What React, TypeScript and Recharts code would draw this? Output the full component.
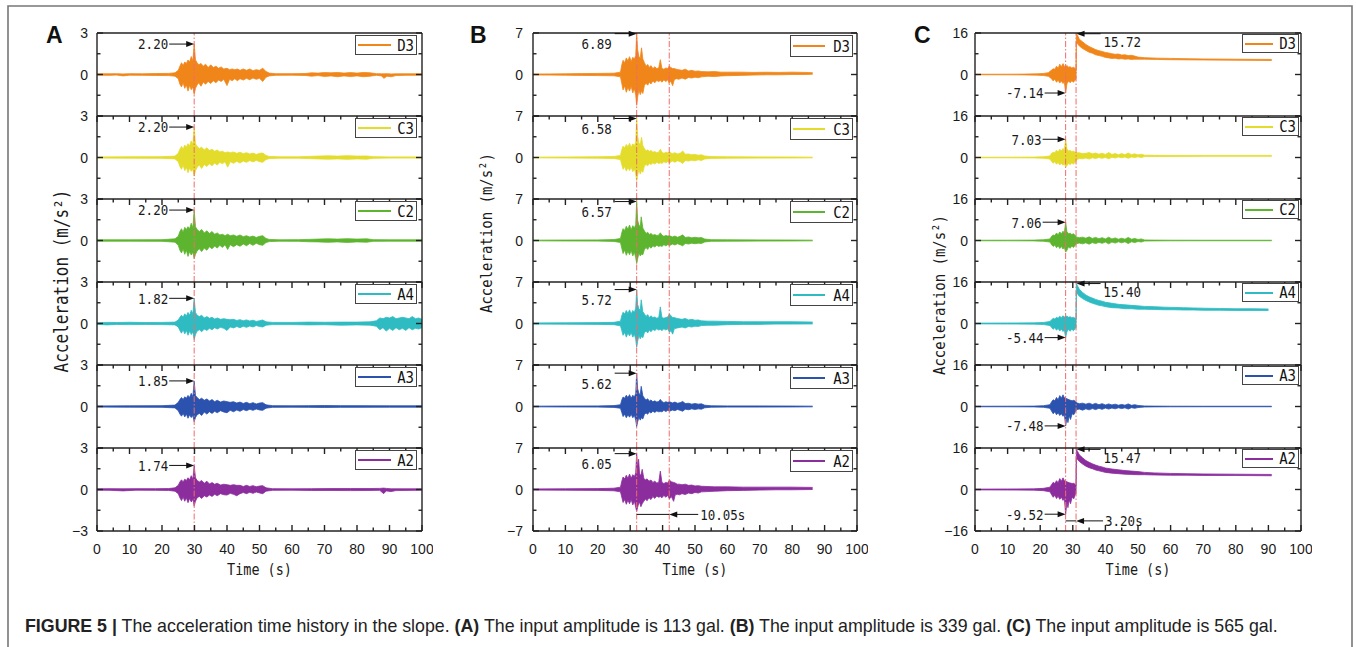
import React from 'react';
import { ComposedChart, Area, XAxis, YAxis, ReferenceLine, ReferenceDot, Legend } from 'recharts';

type Env = number[][]; // [time, low, high] envelope

const TIME_TICKS = [0, 5, 10, 15, 20, 25, 30, 35, 40, 45, 50, 55, 60, 65, 70, 75, 80, 85, 90, 95, 100];
const SENSORS = ['D3', 'C3', 'C2', 'A4', 'A3', 'A2'];
const COLORS = ['#F0861A', '#E3DC2B', '#5DB52F', '#2EBBC2', '#2A52AE', '#8C2D9E'];

// ---------- Panel A (113 gal) ----------
const A_D3: Env = [[0,-.05,.05],[4,-.06,.05],[6,-.04,.06],[8,-.1,.04],[10,-.05,.06],[14,-.06,.05],[18,-.07,.07],[22,-.08,.08],[24,-.12,.12],[25,-.3,.3],[25.5,-.7,.6],[26,-.9,.85],[26.5,-.6,.65],[27,-1.0,.9],[27.5,-.75,.8],[28,-1.2,1.05],[28.5,-.8,.9],[29,-1.1,1.3],[29.5,-.9,1.0],[29.9,-1.45,2.2],[30.3,-1.0,1.05],[30.8,-.75,.85],[31.3,-.6,.7],[32,-.85,.8],[32.7,-.55,.6],[33.4,-.7,.75],[34.2,-.5,.5],[35,-.65,.7],[35.8,-.45,.5],[36.6,-.6,.6],[37.4,-.4,.45],[38.2,-.5,.55],[39,-.35,.4],[40,-.8,.45],[40.8,-.35,.35],[41.6,-.45,.4],[42.4,-.3,.35],[43.2,-.45,.4],[44,-.3,.3],[45,-.4,.4],[46,-.28,.3],[47,-.38,.4],[48,-.25,.28],[49,-.35,.35],[50,-.28,.3],[51,-.5,.45],[52,-.2,.22],[53,-.1,.1],[55,-.06,.06],[60,-.05,.06],[64,-.07,.07],[66,-.12,.12],[68,-.08,.1],[70,-.14,.14],[72,-.1,.12],[74,-.16,.15],[76,-.1,.1],[78,-.15,.14],[80,-.1,.1],[82,-.16,.15],[84,-.12,.12],[86,-.06,.06],[87.5,-.1,.05],[88.3,-.28,.05],[89.2,-.12,.06],[90.5,-.16,.04],[92,-.08,.05],[95,-.06,.05],[100,-.05,.05]];
const A_C3: Env = [[0,-.04,.04],[10,-.05,.05],[20,-.06,.06],[24,-.1,.1],[25,-.3,.3],[25.5,-.65,.6],[26,-.85,.8],[26.5,-.55,.6],[27,-.95,.9],[27.5,-.7,.75],[28,-1.1,1.0],[28.5,-.75,.85],[29,-1.0,1.2],[29.5,-.85,.95],[29.9,-1.35,2.2],[30.3,-.95,1.0],[30.8,-.7,.8],[31.5,-.55,.65],[32.2,-.8,.75],[33,-.5,.55],[33.8,-.65,.7],[34.6,-.45,.5],[35.4,-.6,.6],[36.2,-.4,.45],[37,-.55,.55],[37.8,-.35,.4],[38.6,-.45,.45],[39.4,-.3,.35],[40.2,-.7,.4],[41,-.3,.35],[42,-.42,.4],[43,-.28,.3],[44,-.4,.38],[45,-.25,.28],[46,-.35,.35],[47,-.22,.25],[48,-.32,.32],[49,-.2,.22],[50,-.3,.3],[51,-.35,.32],[52,-.15,.15],[53,-.08,.08],[56,-.05,.05],[62,-.05,.05],[65,-.08,.08],[68,-.1,.1],[71,-.12,.12],[74,-.1,.1],[77,-.13,.13],[80,-.1,.1],[83,-.12,.11],[85,-.06,.06],[90,-.04,.04],[100,-.04,.04]];
const A_C2: Env = [[0,-.05,.05],[10,-.05,.05],[20,-.06,.06],[24,-.12,.12],[25,-.35,.3],[25.5,-.7,.65],[26,-.9,.85],[26.5,-.6,.6],[27,-1.0,.95],[27.5,-.7,.8],[28,-1.15,1.0],[28.5,-.8,.85],[29,-1.05,1.25],[29.5,-.85,.9],[29.9,-1.3,2.2],[30.3,-1.0,1.0],[30.8,-.75,.8],[31.5,-.6,.65],[32.2,-.8,.8],[33,-.55,.55],[33.8,-.7,.7],[34.6,-.45,.5],[35.4,-.6,.65],[36.2,-.4,.45],[37,-.55,.55],[37.8,-.35,.4],[38.6,-.5,.45],[39.4,-.3,.35],[40.2,-.65,.45],[41,-.3,.35],[42,-.45,.4],[43,-.3,.3],[44,-.42,.4],[45,-.25,.28],[46,-.38,.35],[47,-.22,.25],[48,-.35,.32],[49,-.2,.22],[50,-.3,.3],[51,-.35,.35],[52,-.15,.15],[53,-.08,.08],[56,-.05,.05],[62,-.06,.06],[65,-.09,.08],[68,-.1,.1],[71,-.13,.12],[74,-.1,.1],[77,-.14,.13],[80,-.1,.1],[83,-.12,.12],[85,-.06,.06],[90,-.05,.05],[100,-.05,.05]];
const A_A4: Env = [[0,-.06,.06],[3,-.1,.08],[6,-.07,.07],[10,-.08,.09],[15,-.07,.07],[20,-.08,.08],[24,-.1,.1],[25,-.25,.25],[25.5,-.5,.45],[26,-.7,.6],[26.5,-.45,.45],[27,-.75,.7],[27.5,-.5,.55],[28,-.85,.8],[28.5,-.55,.6],[29,-.8,.95],[29.5,-.6,.7],[29.9,-1.15,1.82],[30.3,-.8,.8],[30.8,-.55,.6],[31.5,-.45,.5],[32.2,-.6,.6],[33,-.4,.4],[33.8,-.5,.5],[34.6,-.35,.38],[35.4,-.45,.45],[36.2,-.3,.32],[37,-.4,.4],[38,-.28,.3],[39,-.35,.35],[40,-.5,.3],[41,-.25,.28],[42,-.32,.3],[43,-.22,.22],[44,-.3,.28],[45,-.2,.2],[46,-.28,.26],[47,-.18,.18],[48,-.25,.24],[49,-.15,.15],[50,-.22,.2],[51,-.25,.25],[52,-.12,.12],[54,-.08,.08],[60,-.08,.08],[65,-.1,.1],[70,-.09,.09],[75,-.12,.1],[80,-.1,.1],[84,-.12,.12],[86,-.2,.2],[87,-.45,.4],[88,-.3,.35],[89,-.55,.45],[90,-.35,.4],[91,-.5,.5],[92,-.3,.35],[93,-.45,.4],[94,-.35,.45],[95,-.5,.4],[96,-.3,.35],[97,-.45,.5],[98,-.35,.35],[99,-.4,.4],[100,-.3,.3]];
const A_A3: Env = [[0,-.04,.04],[10,-.05,.05],[20,-.06,.06],[24,-.1,.1],[25,-.3,.3],[25.5,-.55,.5],[26,-.7,.65],[26.5,-.5,.5],[27,-.75,.7],[27.5,-.55,.6],[28,-.85,.8],[28.5,-.6,.65],[29,-.8,.95],[29.5,-.65,.7],[29.9,-1.1,1.85],[30.3,-.8,.8],[30.8,-.6,.65],[31.5,-.5,.5],[32.2,-.65,.6],[33,-.4,.45],[33.8,-.55,.55],[34.6,-.38,.4],[35.4,-.5,.5],[36.2,-.35,.35],[37,-.45,.45],[38,-.3,.32],[39,-.4,.4],[40,-.45,.35],[41,-.28,.3],[42,-.38,.35],[43,-.25,.25],[44,-.35,.32],[45,-.22,.22],[46,-.3,.3],[47,-.2,.2],[48,-.28,.28],[49,-.18,.18],[50,-.25,.25],[51,-.28,.28],[52,-.12,.12],[54,-.06,.06],[60,-.05,.05],[65,-.06,.06],[70,-.07,.07],[75,-.06,.06],[80,-.06,.06],[90,-.05,.05],[100,-.05,.05]];
const A_A2: Env = [[0,-.05,.05],[4,-.06,.06],[8,-.1,.05],[12,-.05,.06],[18,-.06,.06],[22,-.07,.07],[24,-.12,.12],[25,-.3,.3],[25.5,-.6,.55],[26,-.8,.7],[26.5,-.55,.55],[27,-.85,.75],[27.5,-.6,.65],[28,-.95,.85],[28.5,-.65,.7],[29,-.9,1.0],[29.5,-.7,.75],[29.9,-1.2,1.74],[30.3,-.85,.85],[30.8,-.6,.65],[31.5,-.5,.55],[32.2,-.65,.65],[33,-.45,.45],[33.8,-.55,.6],[34.6,-.4,.4],[35.4,-.5,.5],[36.2,-.35,.38],[37,-.45,.45],[38,-.3,.32],[39,-.38,.38],[40,-.4,.35],[41,-.28,.3],[42,-.35,.35],[43,-.45,.3],[44,-.3,.3],[45,-.22,.22],[46,-.3,.3],[47,-.2,.22],[48,-.28,.28],[49,-.18,.2],[50,-.25,.25],[51,-.3,.28],[52,-.12,.12],[54,-.06,.06],[60,-.05,.05],[66,-.07,.06],[72,-.07,.07],[78,-.08,.07],[84,-.07,.07],[87,-.06,.08],[88.2,-.3,.1],[89,-.1,.08],[90.5,-.15,.05],[92,-.08,.05],[100,-.05,.05]];

// ---------- Panel B (339 gal) ----------
const B_D3: Env = [[0,-.08,.08],[5,-.1,.1],[10,-.12,.12],[15,-.15,.15],[20,-.18,.18],[25,-.22,.22],[27,-.4,.4],[27.4,-1.5,1.6],[27.8,-2.6,2.4],[28.3,-1.9,2.0],[28.8,-3.0,2.8],[29.3,-2.2,2.3],[29.8,-2.8,3.0],[30.3,-2.0,2.2],[30.8,-3.1,2.9],[31.3,-2.4,2.6],[31.7,-3.5,3.2],[32.0,-5.2,6.89],[32.3,-3.8,4.2],[32.7,-2.6,3.0],[33.1,-3.4,2.8],[33.5,-2.8,4.5],[33.9,-3.2,2.6],[34.4,-1.8,2.0],[34.9,-1.5,1.4],[35.4,-1.8,1.7],[35.9,-1.3,1.2],[36.4,-1.6,1.5],[37,-1.1,1.0],[37.6,-1.4,1.3],[38.2,-1.0,1.0],[38.8,-1.2,1.1],[39.3,-1.0,2.5],[39.8,-1.3,1.0],[40.4,-.9,.9],[41,-1.2,1.1],[41.6,-.9,1.0],[42,-1.5,1.4],[42.5,-1.1,1.2],[43.1,-1.9,1.0],[43.6,-.9,1.0],[44.2,-.7,.9],[45,-.8,.8],[46,-.6,.7],[47,-.8,.9],[48,-.5,.6],[49,-.6,.7],[50,-.45,.55],[51,-.55,.6],[52,-.4,.5],[54,-.3,.45],[56,-.35,.5],[58,-.25,.4],[60,-.2,.4],[64,-.15,.4],[68,-.1,.35],[72,-.05,.38],[76,-.05,.35],[80,0,.4],[84,0,.35],[86.3,.05,.3]];
const B_C3: Env = [[0,-.06,.06],[10,-.08,.08],[20,-.12,.12],[25,-.18,.18],[27,-.35,.35],[27.4,-1.2,1.3],[27.8,-2.0,1.9],[28.3,-1.5,1.6],[28.8,-2.3,2.2],[29.3,-1.7,1.8],[29.8,-2.2,2.4],[30.3,-1.6,1.7],[30.8,-2.4,2.3],[31.3,-1.9,2.0],[31.7,-2.8,2.6],[32.0,-3.9,6.58],[32.3,-3.0,3.6],[32.7,-2.0,2.4],[33.1,-2.8,2.2],[33.5,-2.2,3.4],[33.9,-2.5,2.0],[34.4,-1.4,1.5],[34.9,-1.2,1.1],[35.4,-1.4,1.3],[35.9,-1.0,1.0],[36.4,-1.2,1.2],[37,-.9,.9],[37.6,-1.1,1.0],[38.2,-.8,.8],[38.8,-1.0,.9],[39.3,-.9,1.4],[39.8,-1.0,.9],[40.4,-.7,.7],[41,-.9,.9],[41.6,-.7,.8],[42.2,-.9,.9],[43,-.6,.65],[43.8,-.8,.8],[44.6,-.55,.6],[45.4,-.7,.7],[46.2,-1.0,1.1],[47,-.5,.55],[48,-.6,.6],[49,-.45,.45],[50,-.55,.5],[51,-.4,.4],[52,-.5,.45],[53,-.25,.25],[55,-.15,.15],[60,-.12,.12],[70,-.1,.1],[80,-.08,.08],[86.3,-.06,.06]];
const B_C2: Env = [[0,-.06,.06],[10,-.08,.08],[20,-.1,.1],[25,-.16,.16],[27,-.35,.35],[27.4,-1.3,1.3],[27.8,-2.2,2.0],[28.3,-1.6,1.7],[28.8,-2.5,2.4],[29.3,-1.8,1.9],[29.8,-2.4,2.6],[30.3,-1.7,1.8],[30.8,-2.6,2.5],[31.3,-2.0,2.1],[31.7,-2.9,2.7],[32.0,-3.9,6.57],[32.3,-3.1,3.4],[32.7,-2.1,2.6],[33.1,-2.6,2.3],[33.4,-2.3,4.0],[33.9,-2.4,2.1],[34.4,-1.5,1.6],[34.9,-1.2,1.2],[35.4,-1.5,1.4],[35.9,-1.0,1.0],[36.4,-1.3,1.2],[37,-.9,.9],[37.6,-1.1,1.0],[38.2,-.8,.85],[38.8,-1.0,.9],[39.3,-.9,1.3],[39.8,-1.0,.9],[40.4,-.7,.7],[41,-.9,.85],[41.6,-.7,.75],[42.2,-.85,.8],[43,-.6,.6],[43.8,-.75,.75],[44.6,-.55,.55],[45.4,-.7,.7],[46.2,-.9,.95],[47,-.5,.5],[48,-.6,.6],[49,-.45,.45],[50,-.55,.55],[51,-.45,.45],[52,-.5,.5],[53,-.25,.25],[55,-.14,.14],[60,-.12,.12],[70,-.1,.1],[80,-.08,.08],[86.3,-.06,.06]];
const B_A4: Env = [[0,-.1,.1],[10,-.12,.12],[20,-.15,.15],[25,-.2,.2],[27,-.4,.4],[27.4,-1.2,1.3],[27.8,-2.0,1.9],[28.3,-1.5,1.6],[28.8,-2.3,2.2],[29.3,-1.6,1.7],[29.8,-2.1,2.3],[30.3,-1.5,1.6],[30.8,-2.3,2.2],[31.3,-1.8,1.9],[31.7,-2.7,2.6],[32.0,-4.0,5.72],[32.3,-3.0,3.2],[32.7,-2.0,2.5],[33.1,-2.6,2.2],[33.4,-2.2,4.0],[33.9,-2.4,2.0],[34.4,-1.5,1.6],[34.9,-1.3,1.2],[35.4,-1.6,1.5],[35.9,-1.1,1.0],[36.4,-1.4,1.3],[37,-1.0,1.0],[37.6,-1.2,1.1],[38.2,-.9,.9],[38.8,-1.1,1.0],[39.3,-1.0,2.8],[39.8,-1.2,1.0],[40.4,-.9,.9],[41,-1.1,1.0],[41.6,-.9,1.1],[42.1,-1.5,1.6],[42.6,-1.2,1.3],[43.1,-1.8,1.0],[43.6,-.9,1.0],[44.2,-.8,.9],[45,-.7,.8],[46,-.6,.7],[47,-.75,.85],[48,-.5,.6],[49,-.6,.7],[50,-.45,.55],[51,-.5,.6],[52,-.35,.45],[54,-.3,.4],[56,-.3,.4],[60,-.2,.35],[65,-.15,.3],[70,-.15,.3],[75,-.1,.3],[80,-.1,.3],[86.3,-.08,.25]];
const B_A3: Env = [[0,-.06,.06],[10,-.08,.08],[20,-.1,.1],[25,-.15,.15],[27,-.3,.3],[27.4,-1.0,1.1],[27.8,-1.7,1.6],[28.3,-1.3,1.4],[28.8,-1.9,1.9],[29.3,-1.4,1.5],[29.8,-1.8,2.0],[30.3,-1.3,1.4],[30.8,-1.9,1.9],[31.3,-1.5,1.6],[31.7,-2.3,2.2],[32.0,-3.4,5.62],[32.3,-2.6,3.0],[32.7,-1.8,2.2],[33.1,-2.3,2.0],[33.4,-1.9,3.4],[33.9,-2.1,1.8],[34.4,-1.3,1.4],[34.9,-1.1,1.1],[35.4,-1.3,1.3],[35.9,-.9,.9],[36.4,-1.1,1.1],[37,-.8,.8],[37.6,-1.0,.95],[38.2,-.75,.75],[38.8,-.9,.85],[39.3,-.85,1.2],[39.8,-.9,.85],[40.4,-.65,.65],[41,-.85,.8],[41.6,-.65,.7],[42.2,-.8,.8],[43,-.6,.6],[43.8,-.7,.75],[44.6,-.5,.55],[45.4,-.65,.65],[46.2,-.8,.85],[47,-.45,.5],[48,-.55,.55],[49,-.4,.4],[50,-.5,.5],[51,-.4,.4],[52,-.45,.45],[53,-.22,.22],[55,-.12,.12],[60,-.1,.1],[70,-.1,.1],[80,-.08,.08],[86.3,-.06,.06]];
const B_A2: Env = [[0,-.1,.1],[10,-.12,.12],[20,-.15,.15],[25,-.22,.22],[27,-.4,.4],[27.4,-1.3,1.4],[27.8,-2.2,2.1],[28.3,-1.7,1.8],[28.8,-2.5,2.4],[29.3,-1.8,1.9],[29.8,-2.4,2.6],[30.3,-1.7,1.9],[30.8,-2.6,2.5],[31.3,-2.0,2.2],[31.7,-3.0,2.8],[32.0,-3.7,6.05],[32.3,-3.0,3.6],[32.6,-2.4,5.1],[32.9,-2.2,2.6],[33.3,-2.9,2.4],[33.7,-2.4,3.4],[34.2,-2.0,1.9],[34.7,-1.6,1.6],[35.2,-1.9,1.8],[35.8,-1.4,1.4],[36.4,-1.7,1.6],[37,-1.2,1.2],[37.6,-1.5,1.4],[38.2,-1.1,1.1],[38.8,-1.3,1.2],[39.3,-1.2,3.1],[39.8,-1.4,1.2],[40.4,-1.0,1.0],[41,-1.3,1.2],[41.6,-1.0,1.1],[42.1,-1.6,1.6],[42.7,-1.2,1.3],[43.4,-2.0,1.2],[43.9,-.9,1.1],[44.5,-.8,.9],[45.2,-.9,.9],[46,-.7,.8],[47,-.85,.9],[48,-.6,.7],[49,-.7,.75],[50,-.5,.6],[51,-.6,.65],[52,-.4,.55],[54,-.35,.5],[56,-.3,.45],[60,-.2,.45],[65,-.15,.4],[70,-.1,.4],[75,-.05,.4],[80,-.05,.4],[86.3,0,.35]];

// ---------- Panel C (565 gal) ----------
const C_D3: Env = [[0,-.1,.1],[10,-.12,.12],[15,-.15,.15],[19,-.25,.25],[21,-.4,.4],[22.5,-.7,.7],[23.4,-1.5,1.6],[24,-2.5,2.2],[24.5,-1.8,2.0],[25,-3.0,3.2],[25.5,-2.2,2.4],[26,-3.3,4.0],[26.5,-2.5,3.0],[27,-3.5,4.2],[27.4,-2.8,3.2],[27.8,-7.14,3.0],[28.2,-3.6,3.5],[28.7,-2.5,2.8],[29.2,-3.2,3.0],[29.7,-2.4,2.5],[30.2,-3.0,2.8],[30.7,-2.2,2.4],[31.0,-1.5,1.5],[31.1,12.5,15.72],[31.5,11.8,15.0],[32,11.0,13.6],[33,10.0,12.6],[34,9.3,11.6],[35,8.6,10.8],[36,8.2,10.2],[37,7.6,9.6],[38,7.3,9.2],[39,7.0,8.9],[40,6.6,8.5],[41,6.4,8.3],[42,6.2,8.0],[43,6.3,7.8],[44,6.0,7.9],[45,6.1,7.5],[46,5.9,7.6],[47,6.0,7.3],[48,5.8,7.4],[49,5.9,7.1],[50,5.9,6.7],[52,5.9,6.5],[56,5.8,6.3],[60,5.7,6.2],[70,5.6,6.0],[80,5.5,5.9],[91,5.4,5.8]];
const C_C3: Env = [[0,-.1,.1],[10,-.12,.12],[18,-.15,.15],[21,-.3,.3],[23,-.6,.6],[23.5,-1.5,1.6],[24,-2.2,2.0],[24.5,-1.6,1.8],[25,-2.6,2.8],[25.5,-1.9,2.1],[26,-2.9,3.2],[26.5,-2.2,2.5],[27,-3.0,3.5],[27.4,-2.4,2.8],[27.8,-3.6,7.03],[28.2,-3.2,3.3],[28.7,-2.2,2.5],[29.2,-2.8,2.7],[29.7,-2.0,2.2],[30.2,-2.6,2.5],[30.7,-1.8,2.0],[31.2,-.8,1.8],[32,-.4,1.8],[33,-.5,1.5],[34,-.2,1.6],[35,-.6,1.9],[36,-.1,1.4],[37,-.4,1.7],[38,0,1.3],[39,-.3,1.6],[40,0,1.2],[41,-.5,1.9],[42,.1,1.2],[43,-.2,1.5],[44,.2,1.1],[45,-.1,1.5],[46,.2,1.1],[47,-.3,1.7],[48,.2,1.1],[49,0,1.4],[50,.3,1.0],[51,0,1.3],[52,.35,.9],[55,.4,.85],[60,.4,.8],[70,.45,.8],[80,.45,.8],[91,.45,.8]];
const C_C2: Env = [[0,-.1,.1],[10,-.12,.12],[18,-.15,.15],[21,-.3,.3],[23,-.6,.6],[23.5,-1.6,1.6],[24,-2.3,2.1],[24.5,-1.7,1.9],[25,-2.8,2.9],[25.5,-2.0,2.2],[26,-3.1,3.3],[26.5,-2.3,2.6],[27,-3.3,3.6],[27.4,-2.6,2.9],[27.8,-4.5,7.06],[28.2,-3.8,3.4],[28.7,-2.4,2.6],[29.2,-3.0,2.8],[29.7,-2.1,2.3],[30.2,-2.7,2.6],[30.7,-1.9,2.0],[31.2,-1.2,1.3],[32,-1.0,1.1],[33,-1.3,1.3],[34,-.9,.9],[35,-1.4,1.4],[36,-.8,.8],[37,-1.2,1.2],[38,-.7,.7],[39,-1.1,1.1],[40,-.6,.6],[41,-1.3,1.3],[42,-.6,.6],[43,-1.0,1.0],[44,-.5,.5],[45,-.9,.9],[46,-.5,.5],[47,-1.2,1.2],[48,-.5,.5],[49,-.8,.8],[50,-.4,.4],[51,-.6,.6],[52,-.2,.2],[55,-.15,.15],[60,-.12,.12],[70,-.1,.1],[80,-.1,.1],[91,-.1,.1]];
const C_A4: Env = [[0,-.15,.15],[10,-.2,.2],[18,-.25,.25],[21,-.4,.4],[23,-.8,.8],[23.5,-1.5,1.4],[24,-2.2,2.0],[24.5,-1.6,1.7],[25,-2.6,2.4],[25.5,-1.9,2.0],[26,-2.9,2.8],[26.5,-2.2,2.2],[27,-3.1,3.0],[27.4,-2.5,2.5],[27.8,-5.44,2.6],[28.2,-3.2,2.9],[28.7,-2.3,2.4],[29.2,-3.0,2.6],[29.7,-2.2,2.2],[30.2,-2.8,2.4],[30.7,-2.0,2.0],[31.0,-1.5,1.5],[31.1,12.0,15.4],[31.5,11.3,14.4],[32,10.5,13.2],[33,9.6,12.0],[34,8.9,11.0],[35,8.3,10.3],[36,7.8,9.8],[37,7.4,9.3],[38,7.0,8.9],[39,6.8,8.6],[40,6.5,8.2],[42,6.1,7.8],[44,6.0,7.4],[46,5.7,7.2],[48,5.7,7.0],[50,5.5,6.8],[52,5.5,6.6],[55,5.4,6.5],[58,5.3,6.3],[61,5.3,6.2],[64,5.2,6.1],[67,5.2,6.0],[70,5.1,5.9],[75,5.1,5.8],[80,5.0,5.7],[85,5.0,5.7],[90,5.0,5.6]];
const C_A3: Env = [[0,-.1,.1],[10,-.12,.12],[18,-.15,.15],[21,-.3,.3],[23,-.7,.7],[23.5,-1.8,1.8],[24,-2.8,2.6],[24.5,-2.0,2.2],[25,-3.2,3.5],[25.5,-2.4,2.6],[26,-3.5,4.2],[26.5,-2.8,3.2],[27,-3.8,4.5],[27.4,-3.0,3.4],[27.8,-7.48,3.2],[28.2,-4.5,3.0],[28.5,-6.2,2.8],[28.9,-3.6,2.6],[29.3,-5.0,2.4],[29.8,-2.8,2.2],[30.3,-3.2,2.4],[30.8,-2.0,2.0],[31.2,-1.2,1.4],[32,-1.0,1.1],[33,-1.4,1.3],[34,-.9,.9],[35,-1.3,1.3],[36,-.8,.8],[37,-1.2,1.2],[38,-.7,.7],[39,-1.1,1.1],[40,-.6,.6],[41,-1.0,1.0],[42,-.6,.6],[43,-.9,.9],[44,-.5,.5],[45,-.8,.8],[46,-.5,.5],[47,-1.0,1.0],[48,-.45,.45],[49,-.7,.7],[50,-.4,.4],[52,-.2,.2],[55,-.15,.15],[60,-.12,.12],[70,-.1,.1],[80,-.1,.1],[91,-.1,.1]];
const C_A2: Env = [[0,-.15,.15],[10,-.2,.2],[18,-.25,.25],[21,-.45,.45],[23,-.9,.9],[23.5,-2.0,1.9],[24,-3.0,2.8],[24.5,-2.2,2.3],[25,-3.5,3.4],[25.5,-2.6,2.6],[26,-3.8,4.2],[26.5,-3.0,3.2],[27,-4.2,4.5],[27.4,-3.2,3.4],[27.8,-9.52,3.2],[28.2,-5.0,3.0],[28.5,-7.0,2.8],[28.9,-4.0,2.6],[29.3,-5.5,2.5],[29.8,-3.0,2.3],[30.3,-3.6,2.4],[30.7,-2.2,2.0],[31.0,-1.5,1.5],[31.1,12.2,15.47],[31.5,11.5,14.6],[32,10.8,13.4],[33,9.8,12.2],[34,9.0,11.2],[35,8.4,10.5],[36,8.0,9.9],[37,7.5,9.4],[38,7.2,9.0],[39,6.9,8.7],[40,6.6,8.3],[42,6.3,7.9],[44,6.1,7.6],[46,5.9,7.3],[48,5.8,7.1],[50,5.7,6.9],[52,5.7,6.6],[55,5.6,6.4],[60,5.5,6.2],[65,5.5,6.1],[70,5.4,6.0],[80,5.4,5.9],[91,5.3,5.8]];

// ---------- annotations ----------
const A_PEAK_TIME = 29.9;
const A_PEAKS = [2.20, 2.20, 2.20, 1.82, 1.85, 1.74];
const B_PEAK_TIME = 32.0;
const B_PEAKS = [6.89, 6.58, 6.57, 5.72, 5.62, 6.05];
const A_MARK_LINES = [29.9];
const B_MARK_LINES = [32.0, 42.05];
const C_MARK_LINES = [27.8, 31.0];
const C_POS_TIME = 31.15;
const C_NEG_TIME = 27.8;
const C_POS = [15.72, 7.03, 7.06, 15.40, NaN, 15.47];
const C_NEG = [-7.14, NaN, NaN, -5.44, -7.48, -9.52];
const B_INTERVAL = { from: 32.0, to: 42.05, y: -4.2, text: '10.05s', tail: 29 };
const C_INTERVAL = { from: 27.8, to: 31.0, y: -12.1, text: '3.20s', tail: 27 };

// ---------- styling ----------
const TOP = 33;
const SUBH = 83;
const AXC = '#222222';
const RED = '#F26B6B';
const ARC = '#111111';
const MONO = '"DejaVu Sans Mono", monospace';
const SANS = '"Liberation Sans", Arial, sans-serif';
const MAJOR_TICK = 6; // px
const MINOR_TICK = 3.5; // px

interface Ann { t: number; v: number; text: string; kind: 'L' | 'LB' | 'R'; len: number }
interface Interval { from: number; to: number; y: number; text: string; tail: number }
interface LegendGeom { w: number; h: number; top: number; right: number; line: number }
interface Panel {
  id: string; left: number; right: number; dom: number; series: Env[]; ann: Ann[][];
  marks: number[]; interval?: Interval; lg: LegendGeom; labelGap: number;
}

const fmt = (v: number) => v.toFixed(2);

const annA: Ann[][] = A_PEAKS.map((v) => [{ t: A_PEAK_TIME, v, text: fmt(v), kind: 'L', len: 25 }]);
const annB: Ann[][] = B_PEAKS.map((v) => [{ t: B_PEAK_TIME, v, text: fmt(v), kind: 'LB', len: 22 }]);
const annC: Ann[][] = C_POS.map((p, i) => {
  const out: Ann[] = [];
  if (!isNaN(p)) {
    if (p > 10) out.push({ t: C_POS_TIME, v: p, text: fmt(p), kind: 'R', len: 24 });
    else out.push({ t: C_NEG_TIME, v: p, text: fmt(p), kind: 'L', len: 23 });
  }
  const n = C_NEG[i];
  if (!isNaN(n)) out.push({ t: C_NEG_TIME, v: n, text: fmt(n), kind: 'L', len: 21 });
  return out;
});

const PANELS: Panel[] = [
  { id: 'A', left: 97, right: 422, dom: 3, series: [A_D3, A_C3, A_C2, A_A4, A_A3, A_A2], ann: annA, marks: A_MARK_LINES,
    lg: { w: 62, h: 20, top: 2, right: 5, line: 33 }, labelGap: 9 },
  { id: 'B', left: 533, right: 857, dom: 7, series: [B_D3, B_C3, B_C2, B_A4, B_A3, B_A2], ann: annB, marks: B_MARK_LINES,
    interval: B_INTERVAL, lg: { w: 63, h: 22, top: 2, right: 4, line: 32 }, labelGap: 10 },
  { id: 'C', left: 975, right: 1301, dom: 16, series: [C_D3, C_C3, C_C2, C_A4, C_A3, C_A2], ann: annC, marks: C_MARK_LINES,
    interval: C_INTERVAL, lg: { w: 57, h: 19, top: 1, right: 2, line: 28 }, labelGap: 7 },
];

const TallText = ({ x, y, anchor, size = 12.5, children }: { x: number; y: number; anchor: 'start' | 'middle' | 'end'; size?: number; children: React.ReactNode }) => (
  <text transform={`translate(${x},${y}) scale(1,1.18)`} x={0} y={0} textAnchor={anchor} dominantBaseline="central"
    fontFamily={MONO} fontSize={size} fill="#1a1a1a">{children}</text>
);

function head(tx: number, ty: number, dir: number) {
  const b = tx - dir * 8;
  return <polygon points={`${tx},${ty} ${b},${ty - 3} ${b},${ty + 3}`} fill={ARC} />;
}

function annShape(a: Ann) {
  return (p: any) => {
    const cx = p.cx as number, cy = p.cy as number;
    if (cx == null || cy == null) return <g />;
    if (a.kind === 'R') {
      return (
        <g>
          <line x1={cx + 6} y1={cy} x2={cx + a.len} y2={cy} stroke={ARC} strokeWidth={1} />
          {head(cx, cy, -1)}
          <TallText x={cx + a.len + 3} y={cy + 8} anchor="start">{a.text}</TallText>
        </g>
      );
    }
    const below = a.kind === 'LB';
    return (
      <g>
        <line x1={cx - a.len} y1={cy} x2={cx - 6} y2={cy} stroke={ARC} strokeWidth={1} />
        {head(cx, cy, 1)}
        <TallText x={below ? cx - a.len - 3 : cx - a.len - 1} y={below ? cy + 10 : cy} anchor="end">{a.text}</TallText>
      </g>
    );
  };
}

function intervalShape(iv: Interval) {
  return (p: any) => {
    const cx = p.cx as number, cy = p.cy as number;
    if (cx == null || cy == null) return <g />;
    return (
      <g>
        <line x1={cx + 6} y1={cy} x2={cx + iv.tail} y2={cy} stroke={ARC} strokeWidth={1} />
        {head(cx, cy, -1)}
        <TallText x={cx + iv.tail + 2} y={cy} anchor="start">{iv.text}</TallText>
      </g>
    );
  };
}

function Sub({ cfg, k }: { cfg: Panel; k: number }) {
  const last = k === 5;
  const plotW = cfg.right - cfg.left;
  const LM = 45, RM = 10, TM = 10;
  const XH = last ? 46 : 0;
  const BM = last ? 0 : 10;
  const width = LM + plotW + 1 + RM;
  const height = TM + SUBH + XH + BM;
  const d = cfg.dom;
  const data = cfg.series[k].map(([t, lo, hi]) => ({ t, r: [lo, hi] }));
  const yTicks = [-d, -d / 2, 0, d / 2, d];
  const labelled = last ? [-d, 0, d] : [0, d];
  const color = COLORS[k];
  const lg = cfg.lg;
  const isMajorY = (v: number) => v === 0 || Math.abs(v) === d;
  // tick lengths converted to data units of the respective axis
  const yPer = (2 * d) / SUBH;
  const xPer = 100 / plotW;

  const leftLabel = (p: any) => {
    const v = p.payload.value as number;
    const x = Number(p.x), y = Number(p.y);
    if (!labelled.includes(v)) return <g />;
    return (
      <text x={x - cfg.labelGap} y={y} textAnchor="end" dominantBaseline="central" fontFamily={SANS} fontSize={14} fill="#1a1a1a">
        {v < 0 ? `\u2212${Math.abs(v)}` : `${v}`}
      </text>
    );
  };
  const bottomLabel = (p: any) => {
    const v = p.payload.value as number;
    const x = Number(p.x), y = Number(p.y);
    if (v % 10 !== 0) return <g />;
    return <text x={x} y={y + 18} textAnchor="middle" dominantBaseline="central" fontFamily={SANS} fontSize={14} fill="#1a1a1a">{v}</text>;
  };

  const legendContent = () => (
    <div style={{ width: lg.w, height: lg.h, boxSizing: 'border-box', border: '1px solid #444', background: '#fff', position: 'relative' }}>
      <div style={{ position: 'absolute', left: 2, top: Math.round(lg.h / 2) - 2, width: lg.line, height: 1.5, background: color }} />
      <div style={{ position: 'absolute', right: 2, top: 0, height: lg.h - 2, lineHeight: `${lg.h - 2}px`, fontFamily: MONO, fontSize: 14, color: '#111', transform: 'scaleY(1.18)' }}>
        {SENSORS[k]}
      </div>
    </div>
  );

  const tickSeg = (key: string, a: { x: number; y: number }, b: { x: number; y: number }) => (
    <ReferenceLine key={key} xAxisId="b" yAxisId="l" ifOverflow="visible" segment={[a, b]} stroke={AXC} strokeWidth={1.4} />
  );

  return (
    <div style={{ position: 'absolute', left: cfg.left - LM, top: TOP + k * SUBH - TM, width, height }}>
      <ComposedChart width={width} height={height} data={data} margin={{ top: TM, right: RM, bottom: BM, left: 0 }}>
        <XAxis xAxisId="b" dataKey="t" type="number" domain={[0, 100]} allowDataOverflow ticks={TIME_TICKS} interval={0}
          hide={!last} height={XH} axisLine={false} tickLine={false} tickSize={0} tickMargin={0} tick={bottomLabel}
          label={last ? {
            content: (lp: any) => {
              const vb = lp && lp.viewBox;
              if (!vb) return null;
              return <TallText x={vb.x + vb.width / 2} y={vb.y + 38} anchor="middle" size={13.5}>Time (s)</TallText>;
            },
          } : undefined} />
        <YAxis yAxisId="l" type="number" domain={[-d, d]} allowDataOverflow ticks={yTicks} interval={0} width={LM}
          axisLine={false} tickLine={false} tickSize={0} tickMargin={0} tick={leftLabel} />
        <YAxis yAxisId="r" orientation="right" type="number" domain={[-d, d]} allowDataOverflow ticks={yTicks} interval={0} width={1}
          axisLine={false} tickLine={false} tick={false} />
        <Area xAxisId="b" yAxisId="l" dataKey="r" name={SENSORS[k]} type="linear" stroke={color} strokeWidth={0.8}
          fill={color} fillOpacity={1} dot={false} activeDot={false} isAnimationActive={false} />
        {cfg.marks.map((m) => (
          <ReferenceLine key={`m${m}`} xAxisId="b" yAxisId="l" x={m} stroke={RED} strokeWidth={1} strokeDasharray="6 2 1.5 2" />
        ))}
        {/* subplot frame */}
        <ReferenceLine xAxisId="b" yAxisId="l" x={0} stroke={AXC} strokeWidth={1.4} />
        <ReferenceLine xAxisId="b" yAxisId="l" x={100} stroke={AXC} strokeWidth={1.4} />
        <ReferenceLine xAxisId="b" yAxisId="l" y={d} stroke={AXC} strokeWidth={1.4} />
        {last && <ReferenceLine xAxisId="b" yAxisId="l" y={-d} stroke={AXC} strokeWidth={1.4} />}
        {/* inward tick marks */}
        {k > 0 && TIME_TICKS.map((t) => tickSeg(`tt${t}`, { x: t, y: d }, { x: t, y: d - (t % 10 === 0 ? MAJOR_TICK : MINOR_TICK) * yPer }))}
        {last && TIME_TICKS.map((t) => tickSeg(`bt${t}`, { x: t, y: -d }, { x: t, y: -d + (t % 10 === 0 ? MAJOR_TICK : MINOR_TICK) * yPer }))}
        {yTicks.map((v) => tickSeg(`lt${v}`, { x: 0, y: v }, { x: (isMajorY(v) ? MAJOR_TICK : MINOR_TICK) * xPer, y: v }))}
        {yTicks.map((v) => tickSeg(`rt${v}`, { x: 100, y: v }, { x: 100 - (isMajorY(v) ? MAJOR_TICK : MINOR_TICK) * xPer, y: v }))}
        {cfg.ann[k].map((a, i) => (
          <ReferenceDot key={`a${i}`} xAxisId="b" yAxisId="l" x={a.t} y={a.v} r={1} ifOverflow="visible" shape={annShape(a)} />
        ))}
        {last && cfg.interval && (
          <ReferenceLine xAxisId="b" yAxisId="l" ifOverflow="visible"
            segment={[{ x: cfg.interval.from, y: cfg.interval.y }, { x: cfg.interval.to, y: cfg.interval.y }]}
            stroke={ARC} strokeWidth={1} />
        )}
        {last && cfg.interval && (
          <ReferenceDot xAxisId="b" yAxisId="l" x={cfg.interval.to} y={cfg.interval.y} r={1} ifOverflow="visible"
            shape={intervalShape(cfg.interval)} />
        )}
        <Legend verticalAlign="middle" align="center" layout="horizontal" content={legendContent}
          wrapperStyle={{ left: LM + plotW - lg.right - lg.w, top: TM + lg.top, width: lg.w, height: lg.h, margin: 0, padding: 0 }} />
      </ComposedChart>
    </div>
  );
}

const Y_LABELS = [
  { x: 62, y: 281, size: 16 },
  { x: 487, y: 233, size: 14 },
  { x: 940, y: 295, size: 14 },
];
const LETTERS = [
  { t: 'A', x: 46 },
  { t: 'B', x: 470 },
  { t: 'C', x: 914 },
];

export default function App() {
  return (
    <div style={{ position: 'absolute', left: 0, top: 0, width: 1356, height: 647, background: '#fff', overflow: 'hidden' }}>
      {PANELS.map((p) => (
        <React.Fragment key={p.id}>
          {[0, 1, 2, 3, 4, 5].map((k) => <Sub key={k} cfg={p} k={k} />)}
        </React.Fragment>
      ))}
      <svg width={1356} height={647} style={{ position: 'absolute', left: 0, top: 0, pointerEvents: 'none' }}>
        <path d="M8,647V6H1352V647" stroke="#777" strokeWidth={1.6} fill="none" />
        {LETTERS.map((l) => (
          <text key={l.t} x={l.x} y={43} fontFamily={SANS} fontWeight="bold" fontSize={23} fill="#111">{l.t}</text>
        ))}
        {Y_LABELS.map((l, i) => (
          <text key={i} transform={`translate(${l.x},${l.y}) rotate(-90) scale(1,1.18)`} x={0} y={0} textAnchor="middle"
            dominantBaseline="central" fontFamily={MONO} fontSize={l.size} fill="#1a1a1a">Acceleration (m/s²)</text>
        ))}
      </svg>
      <div style={{ position: 'absolute', left: 25, top: 615, fontFamily: SANS, fontSize: 17.8, color: '#222', whiteSpace: 'nowrap', lineHeight: '22px' }}>
        <b>FIGURE 5 |</b> The acceleration time history in the slope. <b>(A)</b> The input amplitude is 113 gal. <b>(B)</b> The input amplitude is 339 gal. <b>(C)</b> The input amplitude is 565 gal.
      </div>
    </div>
  );
}
